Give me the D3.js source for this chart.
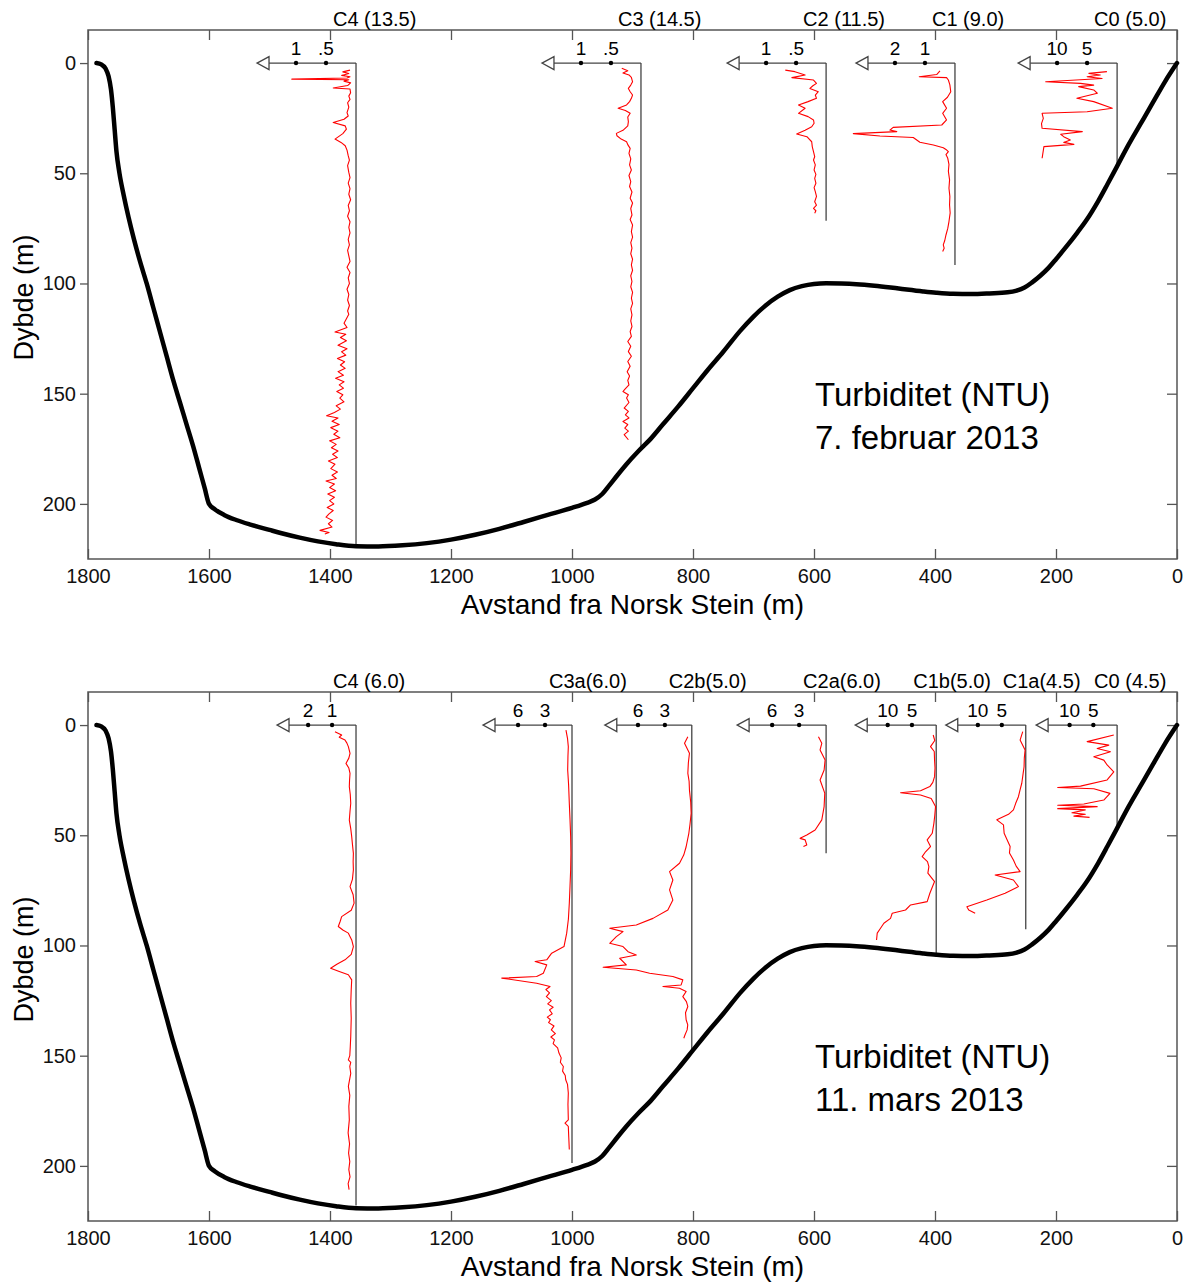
<!DOCTYPE html>
<html lang="no">
<head>
<meta charset="UTF-8">
<title>Turbiditet (NTU)</title>
<script src="https://d3js.org/d3.v7.min.js"></script>
<style>
  body { margin: 0; background: #fff; }
  svg { display: block; font-family: "Liberation Sans", Arial, sans-serif; }
  .frame { fill: none; stroke: #555; stroke-width: 1.5; }
  .axis path { display: none; }
  .axis line { stroke: #555; stroke-width: 1.3; }
  .axis text { font-size: 20px; fill: #111; font-family: "Liberation Sans", Arial, sans-serif; }
  .bathy { fill: none; stroke: #000; stroke-width: 4.5; stroke-linejoin: round; stroke-linecap: round; }
  .cast { stroke: #444; stroke-width: 1.3; }
  .profile { fill: none; stroke: #f00; stroke-width: 1.1; stroke-linejoin: round; }
</style>
</head>
<body>
<svg id="chart" width="1190" height="1284"></svg>
<script>
// --- data -----------------------------------------------------------------
var xTicks = [1800, 1600, 1400, 1200, 1000, 800, 600, 400, 200, 0];
var yTicks = [0, 50, 100, 150, 200];

// sea floor: [distance from Norsk Stein (m), depth (m)]
var bathymetry = [
  [1786, 0], [1778, 0.6], [1771, 2.5], [1766, 6], [1762, 12], [1759, 20], [1756, 30],
  [1753, 40], [1748, 50], [1741, 60], [1733, 70], [1724, 80], [1714, 90], [1703, 100],
  [1692, 111], [1681, 122], [1670, 133], [1659, 144], [1648, 154], [1637, 164], [1626, 174],
  [1616, 184], [1607, 193], [1600, 200], [1590, 202.5], [1575, 205], [1555, 207.3],
  [1530, 209.5], [1500, 211.8], [1480, 213.3], [1450, 215.3], [1420, 217], [1390, 218.3],
  [1357, 219.2], [1320, 219.3], [1280, 218.8], [1240, 217.8], [1200, 216.2], [1160, 214],
  [1120, 211.3], [1080, 208.2], [1040, 205], [1000, 201.8], [975, 199.5], [962, 198],
  [950, 195.5], [938, 191.5], [925, 187], [910, 182], [890, 176], [870, 170.5], [850, 164],
  [825, 156], [800, 147.5], [775, 139], [750, 131], [722, 121.5], [700, 115], [680, 110],
  [660, 106], [640, 103], [620, 101.2], [600, 100.2], [580, 99.9], [555, 100], [530, 100.3],
  [500, 101], [460, 102.3], [420, 103.6], [398, 104.2], [370, 104.7], [340, 104.8],
  [310, 104.5], [280, 104], [265, 103.2], [252, 101.8], [240, 99.6], [226, 96.5],
  [212, 92.8], [200, 89], [185, 84], [165, 77], [149, 71], [130, 62.5], [115, 55],
  [100, 47.3], [80, 37], [60, 27.5], [40, 18], [20, 8.5], [0, 0]
];

// turbidity profiles: [depth (m), NTU]
var febC4 = [[3.2,.10],[4.0,.22],[4.7,.12],[5.6,.24],[6.2,.10],[6.8,.15],[7.3,1.07],[7.6,.12],[8.2,.20],[9.0,.09],[10.2,.14],[11.3,.38],[11.8,.10],[13.5,.09],[15,.12],[16.5,.10],[18,.14],[20,.12],[22.5,.15],[24,.13],[25.5,.20],[27,.38],[28.5,.18],[30,.16],[32,.22],[34.5,.35],[36,.25],[37.5,.18],[39.5,.15],[42,.13],[44,.11],[46.5,.14],[49.6,.12],[52,.10],[54.5,.13],[57,.10],[59.5,.12],[62,.09],[64.6,.13],[67,.11],[69.5,.14],[72,.10],[74.5,.12],[77,.10],[80,.13],[82.5,.11],[85,.14],[87.5,.12],[90,.10],[92.6,.15],[95,.10],[97.5,.13],[100,.11],[102.6,.15],[105,.12],[107.5,.14],[110,.11],[112.5,.14],[114,.12],[116,.16],[118,.20],[120,.15],[122,.35],[123,.17],[124.5,.26],[126,.16],[128,.30],[129.6,.15],[131,.24],[132.5,.17],[134,.31],[135.5,.19],[137,.26],[138.5,.18],[140,.30],[141.6,.21],[143,.34],[144.6,.20],[146,.28],[147.5,.21],[149,.32],[150.5,.22],[152,.27],[153.7,.20],[155.5,.33],[157,.26],[158.5,.36],[160,.49],[161,.30],[162.5,.40],[164,.28],[165.4,.42],[167,.30],[168.4,.37],[170,.27],[171.4,.44],[173,.33],[174.5,.41],[176,.30],[177.5,.39],[179,.31],[180.5,.46],[182,.35],[184,.42],[185.5,.31],[187,.40],[188.5,.33],[189.6,.50],[191,.36],[192.6,.44],[194,.34],[195.5,.47],[197,.36],[198.5,.44],[200,.37],[201.6,.48],[203,.38],[204.5,.45],[206,.50],[207.5,.39],[209,.46],[210.5,.40],[212,.60],[213,.45],[213.7,.52]];
var febC3 = [[2.4,.32],[3.5,.22],[4.5,.30],[5.4,.20],[6.5,.16],[8.5,.14],[10,.17],[11.5,.21],[13,.18],[14.5,.14],[16,.16],[17.5,.19],[19.0,.24],[20.5,.38],[21.5,.26],[22.8,.18],[24.5,.22],[26.6,.21],[28.5,.22],[30.5,.30],[31.9,.41],[33,.40],[34.5,.33],[35.7,.24],[37,.22],[38.7,.18],[41,.20],[43.5,.17],[46.2,.19],[48.5,.16],[51,.20],[53.8,.17],[56,.19],[58.5,.15],[61.3,.18],[63.5,.14],[66,.17],[68.9,.15],[71,.18],[73.5,.14],[76.5,.16],[79,.14],[81.5,.17],[84,.15],[86.5,.17],[89,.14],[91.6,.16],[94,.14],[96.5,.17],[99.1,.15],[101.5,.17],[104,.14],[106.7,.16],[109,.14],[111.5,.17],[114.2,.15],[117,.17],[119.5,.15],[121.8,.18],[124,.16],[126.3,.22],[128.5,.17],[130.9,.21],[133,.16],[135.4,.22],[137.5,.18],[140,.23],[142,.19],[144,.22],[146,.20],[148,.27],[149,.30],[150.5,.21],[152,.24],[154,.20],[156.5,.28],[158,.21],[159.6,.26],[161,.20],[162.6,.30],[164,.22],[165.6,.27],[167,.21],[168.6,.28],[170.9,.21]];
var febC2 = [[3.2,.68],[3.9,.52],[5.4,.35],[6.6,.57],[7.7,.21],[9.2,.16],[10.3,.22],[11.5,.27],[13.0,.13],[14.5,.18],[16.0,.16],[17.5,.30],[19.0,.46],[20.5,.35],[22.8,.46],[24.3,.30],[25.8,.21],[27.3,.20],[28.9,.24],[30.5,.35],[32.2,.49],[33.4,.32],[35.7,.24],[38,.23],[40.2,.21],[42.5,.19],[44,.21],[46.2,.18],[48.5,.20],[50.5,.17],[52.3,.19],[54.5,.17],[56.5,.20],[58.3,.18],[60.5,.16],[62.9,.19],[64.5,.16],[65.9,.21],[67,.17],[68.1,.19]];
var febC1 = [[3.6,.50],[5.2,.61],[6.2,1.19],[6.6,.28],[7.7,.22],[9.9,.17],[13.0,.14],[15.5,.25],[17.5,.41],[20.5,.28],[22.8,.41],[25.8,.28],[28.1,.44],[29.2,2.06],[30.4,2.17],[31.1,1.94],[32.0,3.39],[33.1,2.50],[33.8,1.39],[35.9,1.17],[37.2,.72],[38.4,.39],[39.2,.30],[40.2,.22],[41.5,.30],[43.2,.24],[46,.20],[49.1,.22],[53,.18],[56.8,.20],[60.5,.17],[64.4,.18],[68,.16],[71.9,.20],[75,.24],[78.0,.30],[80.5,.34],[82.5,.39],[84,.36],[85.5,.41]];
var febC0 = [[3.9,1.7],[4.7,4.7],[5.4,2.8],[6.2,5.0],[7.0,2.5],[8.5,11.9],[9.2,6.1],[10.0,3.9],[10.7,6.4],[12.2,3.9],[13.7,3.3],[16.0,6.7],[17.5,3.9],[20.5,0.8],[22.1,5.0],[22.8,12.5],[25.1,12.3],[27.5,12.6],[29.6,12.5],[31.1,5.8],[32.3,9.4],[33.4,8.9],[34.9,7.8],[36.0,8.9],[36.9,7.2],[37.9,12.2],[43.2,12.5]];

var marC4 = [[3.0,.88],[4.5,.60],[5.5,.70],[6.8,.46],[8.2,.38],[9.8,.32],[12.8,.25],[15,.30],[17.4,.42],[19.5,.30],[21.9,.25],[25,.27],[28.0,.28],[31.5,.24],[35.5,.22],[39,.25],[43.1,.28],[47,.22],[50.6,.18],[54,.15],[58.2,.11],[62,.12],[65.7,.11],[70,.15],[73.3,.25],[77,.12],[80.8,.08],[84,.20],[86.9,.60],[89,.66],[91.4,.74],[93,.55],[94.4,.32],[97.5,.18],[100.5,.11],[104,.20],[106.5,.46],[108.5,.80],[110.3,1.06],[111.8,.70],[113.3,.32],[115.6,.18],[120,.20],[126.2,.22],[133,.20],[141.3,.22],[146,.24],[150,.26],[151.9,.32],[153,.22],[154.9,.26],[158,.22],[163.9,.32],[168,.26],[173,.30],[179.1,.28],[185,.33],[190,.27],[194.2,.31],[198,.26],[201.7,.30],[205,.25],[208,.33],[210.8,.29]];
var marC3a = [[2.3,.67],[6,.50],[9.8,.41],[14,.45],[20.4,.48],[27,.38],[35.5,.30],[43,.22],[50.6,.15],[58,.12],[65.7,.15],[73,.22],[80.8,.30],[88,.40],[94.4,.59],[100.5,.89],[103.5,2.26],[106.5,2.81],[107.3,4.1],[108.8,2.81],[112.6,3.19],[114.1,3.93],[114.8,7.81],[117.1,3.93],[118.6,2.44],[120,2.9],[121.5,2.5],[123.2,2.85],[125,2.3],[126.5,2.7],[128,2.1],[129.2,2.5],[131,2.2],[132.5,2.75],[133.7,2.4],[135,2.6],[136.5,2.0],[138.3,2.3],[140,1.85],[141.5,2.35],[142.8,1.95],[144.5,2.1],[146.5,1.6],[148.8,1.45],[151,1.2],[153,1.3],[154.9,.96],[157,1.05],[159,.75],[160.9,.70],[163,.50],[166.9,.41],[172,.45],[179.1,.41],[180.6,.78],[182.1,.41],[187,.36],[192.6,.30]];
var marC2b = [[5.3,.44],[8.3,.81],[12.8,.26],[17,.38],[21.9,.44],[25.5,.30],[29.5,.26],[35,.12],[40.0,.07],[45,.20],[49.1,.33],[55.2,.63],[59,.90],[62.7,1.37],[66.5,2.48],[70.3,2.11],[74.8,2.48],[79.4,2.11],[83.9,2.67],[87.7,4.33],[90.7,6.19],[92.2,9.15],[93.7,7.67],[96.0,8.41],[99.0,9.15],[100.5,7.67],[102.8,7.11],[104.3,6.19],[105.8,8.04],[108.8,7.30],[109.9,9.89],[111.1,6.19],[112.6,4.70],[114.1,2.11],[115.6,1.00],[117.9,1.19],[118.6,3.22],[119.4,1.37],[120.9,.63],[123.2,1.00],[125.5,.60],[127.7,.44],[130.5,.70],[133.7,.63],[136,.45],[138.3,.52],[140.5,.75],[142.1,.89]];
var marC2a = [[5.3,.85],[8.3,.48],[11.3,.67],[15.8,.11],[20.4,.22],[24.9,.67],[30.9,.15],[37.0,.22],[43.0,.48],[47.6,1.22],[49.9,2.15],[51.4,2.89],[52.1,2.33],[54.4,2.15],[55.1,2.52]];
var marC1b = [[4.5,.62],[7,.30],[9.8,1.17],[12,.40],[15.9,.34],[19.5,.25],[23.4,.34],[26,.70],[27.9,1.31],[29.8,3.23],[30.7,7.35],[31.7,3.23],[33.3,1.03],[37.0,.14],[41,.30],[44.6,.48],[49.1,.82],[52.1,1.86],[55.1,1.17],[57.5,2.20],[59.7,2.89],[62,1.80],[64.2,1.51],[67.2,1.72],[71.0,.34],[74,.90],[76.3,1.31],[80.1,1.86],[81.6,5.29],[83.9,6.32],[85.4,9.07],[87.7,9.42],[89.9,10.79],[92.2,11.48],[94.4,12.16],[97.5,12.30]];
var marC1a = [[3.0,.63],[6.8,1.18],[11.3,.14],[15,.30],[18.9,.35],[22,.55],[26.4,.83],[29.5,1.20],[32.5,1.53],[35.5,2.10],[38.5,2.57],[40.5,3.60],[43.0,6.04],[45.3,4.65],[49.1,4.51],[52,3.90],[55.1,3.26],[58,3.40],[61.2,2.57],[64,2.00],[66.5,1.18],[68.0,6.39],[70.3,2.57],[73.3,1.53],[76.3,4.31],[79.4,8.13],[82.4,12.29],[83.9,11.90],[85.4,10.56]];
var marC0 = [[4.5,.70],[7.5,6.3],[9.1,1.75],[10.6,4.2],[12.1,1.4],[14.4,4.9],[15.9,2.8],[18.1,2.1],[21.2,.70],[24.9,2.1],[27.7,7.7],[28.3,12.5],[28.9,4.9],[31.0,1.5],[34.0,2.8],[35.8,7.0],[36.4,12.5],[37.0,4.2],[37.9,12.5],[38.5,6.7],[39.8,9.5],[40.5,6.7],[41.3,9.1],[41.9,5.8]];

// stations, 7 February 2013
var febNames = ["C4 (13.5)", "C3 (14.5)", "C2 (11.5)", "C1 (9.0)", "C0 (5.0)"];
var febDistance = [1357, 886, 580, 367, 99];
var febCastDepth = [219, 175, 71.5, 91.6, 47];
var febTickValues = [[1, 0.5], [1, 0.5], [1, 0.5], [2, 1], [10, 5]];
var febTickLabels = [["1", ".5"], ["1", ".5"], ["1", ".5"], ["2", "1"], ["10", "5"]];
var febScaleMax = [1.65, 1.65, 1.65, 3.3, 16.5];
var febProfiles = [febC4, febC3, febC2, febC1, febC0];

// stations, 11 March 2013
var marNames = ["C4 (6.0)", "C3a(6.0)", "C2b(5.0)", "C2a(6.0)", "C1b(5.0)", "C1a(4.5)", "C0 (4.5)"];
var marDistance = [1357, 1000, 802, 580, 398, 250, 99];
var marCastDepth = [218, 198.7, 148, 58.2, 104, 92.6, 45.3];
var marTickValues = [[2, 1], [6, 3], [6, 3], [6, 3], [10, 5], [10, 5], [10, 5]];
var marTickLabels = [["2", "1"], ["6", "3"], ["6", "3"], ["6", "3"], ["10", "5"], ["10", "5"], ["10", "5"]];
var marScaleMax = [3.3, 9.9, 9.7, 9.9, 16.7, 16.7, 17.05];
var marProfiles = [marC4, marC3a, marC2b, marC2a, marC1b, marC1a, marC0];

// --- layout ---------------------------------------------------------------
var left = 88, right = 1177, plotH = 529;
var panels = [
  { top: 30, names: febNames, dist: febDistance, cast: febCastDepth, ticks: febTickValues,
    labels: febTickLabels, smax: febScaleMax, profiles: febProfiles,
    arrowPx: [99, 99, 99, 99, 99], title: ["Turbiditet (NTU)", "7. februar 2013"] },
  { top: 692, names: marNames, dist: marDistance, cast: marCastDepth, ticks: marTickValues,
    labels: marTickLabels, smax: marScaleMax, profiles: marProfiles,
    arrowPx: [79, 89, 87, 89, 81, 80, 81], title: ["Turbiditet (NTU)", "11. mars 2013"] }
];

var svg = d3.select("#chart");

panels.forEach(function(p) {
  var g = svg.append("g");
  var x = d3.scaleLinear().domain([1800, 0]).range([left, right]);
  var y = d3.scaleLinear().domain([-15, 225]).range([p.top, p.top + plotH]);

  // axes
  g.append("g").attr("class", "axis")
    .attr("transform", "translate(0," + (p.top + plotH) + ")")
    .call(d3.axisBottom(x).tickValues(xTicks).tickSizeInner(-10).tickSizeOuter(0)
      .tickPadding(10).tickFormat(d3.format("d")));
  g.append("g").attr("class", "axis")
    .attr("transform", "translate(0," + p.top + ")")
    .call(d3.axisTop(x).tickValues(xTicks).tickSizeInner(-10).tickSizeOuter(0).tickFormat(""));
  g.append("g").attr("class", "axis")
    .attr("transform", "translate(" + left + ",0)")
    .call(d3.axisLeft(y).tickValues(yTicks).tickSizeInner(8).tickSizeOuter(0).tickPadding(4));
  g.append("g").attr("class", "axis")
    .attr("transform", "translate(" + right + ",0)")
    .call(d3.axisRight(y).tickValues(yTicks).tickSizeInner(-10).tickSizeOuter(0).tickFormat(""));

  g.append("rect").attr("class", "frame")
    .attr("x", left).attr("y", p.top)
    .attr("width", right - left).attr("height", plotH);

  // axis titles
  g.append("text")
    .attr("x", (left + right) / 2).attr("y", p.top + plotH + 55)
    .attr("text-anchor", "middle").style("font-size", "28px")
    .text("Avstand fra Norsk Stein (m)");
  g.append("text")
    .attr("transform", "translate(33," + (p.top + plotH / 2 + 3) + ") rotate(-90)")
    .attr("text-anchor", "middle").style("font-size", "27px")
    .text("Dybde (m)");

  // panel annotation
  p.title.forEach(function(t, i) {
    g.append("text")
      .attr("x", 815).attr("y", p.top + 376 + i * 43)
      .style("font-size", "33px")
      .text(t);
  });

  // stations
  var profileLine = d3.line();
  p.names.forEach(function(name, i) {
    var x0 = x(p.dist[i]);
    var y0 = y(0);
    var s = d3.scaleLinear().domain([0, p.smax[i]]).range([x0, x0 - p.arrowPx[i]]);
    var tip = s(p.smax[i]);
    var sg = g.append("g");

    sg.append("line").attr("class", "cast")
      .attr("x1", x0).attr("x2", x0)
      .attr("y1", y0).attr("y2", y(p.cast[i]));
    sg.append("line").attr("class", "cast")
      .attr("x1", x0).attr("x2", tip + 12)
      .attr("y1", y0).attr("y2", y0);
    sg.append("path")
      .attr("d", "M" + tip + "," + y0 + "L" + (tip + 12) + "," + (y0 - 6.5) +
        "L" + (tip + 12) + "," + (y0 + 6.5) + "Z")
      .attr("fill", "#fff").attr("stroke", "#444").attr("stroke-width", 1.3);

    sg.selectAll("circle").data(p.ticks[i]).join("circle")
      .attr("cx", function(d) { return s(d); }).attr("cy", y0).attr("r", 2.2)
      .attr("fill", "#000");
    sg.selectAll("text.tl").data(p.ticks[i]).join("text")
      .attr("class", "tl")
      .attr("x", function(d) { return s(d); }).attr("y", y0 - 8)
      .attr("text-anchor", "middle").style("font-size", "19px")
      .text(function(d, j) { return p.labels[i][j]; });

    sg.append("text")
      .attr("x", x0 - 23).attr("y", p.top - 4.5)
      .style("font-size", "20px")
      .text(name);

    profileLine.x(function(d) { return s(d[1]); }).y(function(d) { return y(d[0]); });
    sg.append("path").attr("class", "profile").attr("d", profileLine(p.profiles[i]));
  });

  // sea floor
  var bottomLine = d3.line()
    .x(function(d) { return x(d[0]); })
    .y(function(d) { return y(d[1]); })
    .curve(d3.curveMonotoneX);
  g.append("path").attr("class", "bathy").attr("d", bottomLine(bathymetry));
});
</script>
</body>
</html>
